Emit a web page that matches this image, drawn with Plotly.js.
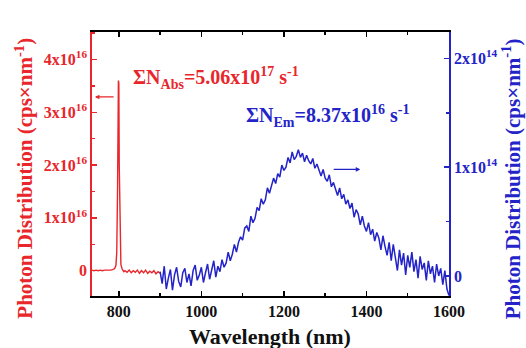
<!DOCTYPE html>
<html><head><meta charset="utf-8">
<script src="https://cdn.plot.ly/plotly-3.0.1.min.js"></script>
<style>html,body{margin:0;padding:0;background:#fff;}#c{width:526px;height:348px;}</style>
</head><body><div id="c"></div>
<script>
// Absorption (red), units of 1e16 cps/nm
const redWl = [735,740,745,750,755,760,765,770,775,780,785,790,793,795,797,799,800,801,803,805,808,812,815,820,825,830,835,840,845,850,855,860,865,870,875,880,885,890,895,900];
const redVal = [0.01,0.00,0.01,0.00,0.01,0.00,0.01,0.01,0.00,0.01,0.02,0.04,0.10,0.35,1.6,3.6,3.55,2.0,0.5,0.12,0.03,-0.02,0.00,-0.03,0.01,-0.04,0.00,-0.03,0.01,-0.05,0.00,-0.04,0.01,-0.05,-0.01,-0.04,0.00,-0.06,-0.02,-0.05];
// Emission (blue), units of 1e14 cps/nm, every 5 nm from 900 to 1600
const blueWl = [];
for (let w = 900; w <= 1600; w += 5) blueWl.push(w);
const blueVal = [
0.04,-0.07,0.09,-0.12,-0.02,0.06,-0.13,0.01,0.08,-0.05,
-0.10,0.03,0.07,-0.06,0.02,-0.09,0.05,0.10,-0.04,0.01,
0.08,-0.06,0.03,0.11,-0.03,0.05,0.14,-0.01,0.09,0.04,
0.15,0.08,0.12,0.22,0.14,0.20,0.29,0.22,0.31,0.36,
0.33,0.44,0.46,0.41,0.55,0.49,0.53,0.63,0.60,0.71,
0.66,0.70,0.81,0.76,0.84,0.90,0.85,0.94,0.91,1.02,
0.97,1.00,1.09,1.04,1.14,1.07,1.10,1.16,1.09,1.13,
1.05,1.11,1.06,1.03,1.08,0.99,1.03,0.97,0.92,0.98,
0.90,0.87,0.93,0.82,0.86,0.80,0.74,0.81,0.71,0.75,
0.66,0.70,0.62,0.67,0.54,0.61,0.57,0.47,0.55,0.46,
0.41,0.49,0.38,0.43,0.32,0.40,0.35,0.24,0.37,0.27,
0.19,0.31,0.14,0.29,0.18,0.05,0.24,0.10,0.21,0.01,
0.19,0.08,0.22,0.04,0.15,-0.02,0.18,0.06,0.12,-0.04,
0.14,0.02,0.09,-0.06,0.11,0.00,0.07,-0.08,0.05,-0.12,
-0.18];
const xTicks = [800,1000,1200,1400,1600];
const yLeftTicks = [0,1,2,3,4];
const yLeftText = ['0','1x10<sup>16</sup>','2x10<sup>16</sup>','3x10<sup>16</sup>','4x10<sup>16</sup>'];
const yRightTicks = [0,1,2];
const yRightText = ['0','1x10<sup>14</sup>','2x10<sup>14</sup>'];

const RED = '#e8262b', BLUE = '#2323c8';
const F = 'Liberation Serif, Times New Roman, serif';

const traces = [
  {x: redWl, y: redVal, type:'scatter', mode:'lines', line:{color:RED, width:1.4}, yaxis:'y', hoverinfo:'skip'},
  {x: blueWl, y: blueVal, type:'scatter', mode:'lines', line:{color:BLUE, width:1.5}, yaxis:'y2', hoverinfo:'skip'}
];
const layout = {
  width:526, height:348, showlegend:false,
  paper_bgcolor:'#fff', plot_bgcolor:'#fff',
  margin:{l:92, r:77, t:32, b:52},
  font:{family:F},
  xaxis:{range:[735,1600], tickvals:xTicks, ticks:'inside', ticklen:5, tickwidth:1.5, tickcolor:'#000',
    showline:true, linecolor:'#000', linewidth:1.8, mirror:'ticks', showgrid:false, zeroline:false,
    tickfont:{family:F, size:16, color:'#111', weight:'bold'},
    minor:{dtick:100, tick0:700, ticks:'inside', ticklen:3, tickcolor:'#000'}},
  yaxis:{range:[-0.48,4.52], tickvals:yLeftTicks, ticktext:yLeftText, ticks:'inside', ticklen:5, tickwidth:1.5, tickcolor:RED,
    showline:true, linecolor:RED, linewidth:1.8, showgrid:false, zeroline:false,
    tickfont:{family:F, size:16, color:RED, weight:'bold'},
    minor:{dtick:0.5, ticks:'inside', ticklen:3, tickcolor:RED}},
  yaxis2:{range:[-0.184,2.243], overlaying:'y', side:'right', tickvals:yRightTicks, ticktext:yRightText, ticks:'inside', ticklen:5, tickwidth:1.5, tickcolor:BLUE,
    showline:true, linecolor:BLUE, linewidth:1.8, showgrid:false, zeroline:false,
    tickfont:{family:F, size:16, color:BLUE, weight:'bold'},
    minor:{dtick:0.5, ticks:'inside', ticklen:3, tickcolor:BLUE}},
  annotations:[
    {xref:'x', yref:'y', x:830, y:3.65, xanchor:'left', yanchor:'middle', showarrow:false,
      text:'ΣN<sub>Abs</sub>=5.06x10<sup>17</sup> s<sup>-1</sup>', font:{family:F, size:20, color:RED, weight:'bold'}},
    {xref:'x', yref:'y', x:742, y:3.29, ax:791, ay:3.29, axref:'x', ayref:'y', showarrow:true, arrowhead:2, arrowsize:0.7, arrowwidth:1.3, arrowcolor:RED, text:''},
    {xref:'x', yref:'y2', x:1103, y:1.47, xanchor:'left', yanchor:'middle', showarrow:false,
      text:'ΣN<sub>Em</sub>=8.37x10<sup>16</sup> s<sup>-1</sup>', font:{family:F, size:20, color:BLUE, weight:'bold'}},
    {xref:'x', yref:'y2', x:1385, y:0.98, ax:1317, ay:0.98, axref:'x', ayref:'y2', showarrow:true, arrowhead:2, arrowsize:0.7, arrowwidth:1.3, arrowcolor:BLUE, text:''},
    {xref:'paper', yref:'paper', x:0.499, y:-0.155, xanchor:'center', yanchor:'middle', showarrow:false,
      text:'Wavelength (nm)', font:{family:F, size:22, color:'#111', weight:'bold'}},
    {xref:'paper', yref:'paper', x:-0.19, y:0.445, xanchor:'center', yanchor:'middle', textangle:-90, showarrow:false,
      text:'Photon Distribution (cps×nm<sup>-1</sup>)', font:{family:F, size:21, color:RED, weight:'bold'}},
    {xref:'paper', yref:'paper', x:1.176, y:0.445, xanchor:'center', yanchor:'middle', textangle:-90, showarrow:false,
      text:'Photon Distribution (cps×nm<sup>-1</sup>)', font:{family:F, size:21, color:BLUE, weight:'bold'}}
  ]
};
Plotly.newPlot('c', traces, layout, {staticPlot:true, displayModeBar:false});
</script></body></html>
